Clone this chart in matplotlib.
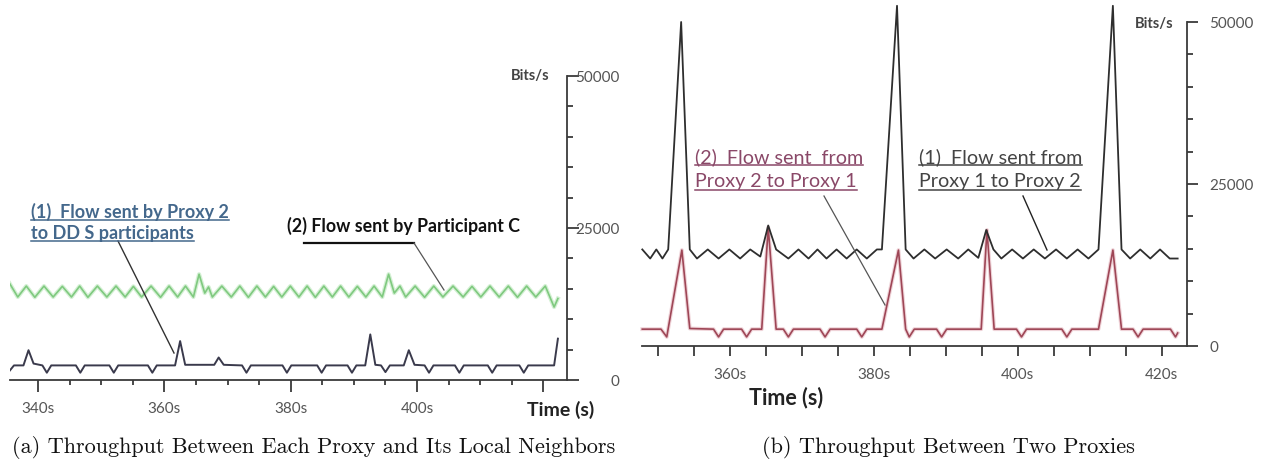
import matplotlib
matplotlib.use("Agg")
import matplotlib.pyplot as plt
from matplotlib.lines import Line2D
from matplotlib.ticker import MultipleLocator, FixedLocator, FixedFormatter

# ---------------- data ----------------
# (a) Flow sent by Participant C (green)
a_pc_t = [335.5, 336.8, 338.15, 339.5, 340.95, 342.4, 343.85, 345.3, 346.6, 347.9, 349.4, 350.9,
          352.35, 353.8, 355.1, 356.4, 357.9, 359.4, 360.75, 362.1, 363.35, 364.6, 365.5, 366.4,
          367.0, 367.6, 369.1, 370.6, 371.95, 373.3, 374.65, 376.0, 377.3, 378.6, 379.95, 381.3,
          382.6, 383.9, 385.25, 386.6, 387.9, 389.2, 390.55, 391.9, 393.2, 394.5, 395.5, 396.4,
          397.3, 398.2, 399.7, 401.2, 402.65, 404.1, 405.7, 407.3, 408.7, 410.1, 411.55, 413.0,
          414.45, 415.9, 417.35, 418.8, 420.3, 421.7, 422.3]
a_pc_v = [15900, 13650, 15450, 13600, 15450, 13650, 15400, 13650, 15450, 13600, 15450, 13650,
          15450, 13650, 15400, 13650, 15450, 13600, 15450, 13650, 15450, 13650, 17400, 14300,
          15300, 13650, 15450, 13650, 15450, 13600, 15450, 13650, 15400, 13650, 15450, 13650,
          15450, 13600, 15450, 13650, 15450, 13650, 15400, 13650, 15450, 13650, 17400, 14300,
          15450, 13650, 15450, 13600, 15450, 13650, 15450, 13650, 15400, 13650, 15450, 13650,
          15450, 13600, 15450, 13650, 15450, 12000, 13400]

# (a) Flow sent by Proxy 2 to DDS participants (dark)
a_p2_t = [335.5, 336.2, 337.7, 338.5, 339.3, 340.7, 341.4, 342.1, 346.0, 346.7, 347.4, 351.3,
          352.0, 352.7, 357.4, 358.1, 358.8, 361.7, 362.5, 363.3, 367.9, 368.6, 369.4, 372.3,
          373.0, 373.7, 378.7, 379.4, 380.1, 384.2, 384.9, 385.6, 389.0, 389.7, 390.4, 391.8,
          392.6, 393.4, 394.3, 395.0, 395.7, 397.9, 398.7, 399.6, 401.2, 401.9, 402.6, 406.0,
          406.7, 407.4, 411.2, 411.9, 412.6, 416.2, 416.9, 417.6, 421.7, 422.3]
a_p2_v = [1500, 2400, 2400, 4900, 2700, 2400, 1200, 2400, 2400, 1200, 2400, 2400,
          1200, 2400, 2400, 1200, 2400, 2400, 6400, 2500, 2500, 3700, 2500, 2400,
          1200, 2400, 2400, 1200, 2400, 2400, 1200, 2400, 2400, 1200, 2400, 2400,
          7500, 2500, 2400, 1300, 2400, 2400, 4900, 2500, 2400, 1200, 2400, 2400,
          1200, 2400, 2400, 1200, 2400, 2400, 1200, 2400, 2400, 6800]

# (b) Flow sent from Proxy 1 to Proxy 2 (black)
b_p12_t = [347.8, 348.9, 349.75, 350.6, 351.4, 353.2, 354.4, 355.4, 356.9, 358.4, 359.9, 361.4,
           362.8, 364.2, 365.3, 366.4, 368.1, 369.5, 370.9, 372.15, 373.4, 374.8, 376.2, 377.6,
           379.0, 380.4, 381.1, 383.2, 384.4, 385.5, 387.0, 388.5, 390.1, 391.7, 393.1, 394.5,
           395.6, 396.6, 397.7, 399.2, 400.7, 402.2, 403.75, 405.3, 406.8, 408.3, 409.8, 411.2,
           413.2, 414.4, 415.6, 417.0, 418.4, 419.75, 421.1, 422.2]
b_p12_v = [14900, 13500, 14900, 13500, 14900, 50000, 14900, 13500, 14900, 13500, 14900, 13500,
           14900, 13800, 18600, 14900, 13500, 14900, 13500, 14900, 13500, 14900, 13500, 14900,
           13500, 14900, 14900, 52500, 14900, 13500, 14900, 13500, 14900, 13500, 14900, 13600,
           17900, 14900, 13500, 14900, 13500, 14900, 13500, 14900, 13500, 14900, 13500, 14900,
           52500, 14900, 13500, 14900, 13500, 14900, 13500, 13500]

# (b) Flow sent from Proxy 2 to Proxy 1 (red)
b_p21_t = [347.8, 350.4, 351.2, 353.3, 354.4, 357.7, 358.4, 359.1, 361.6, 362.3, 363.0, 364.4,
           365.3, 366.4, 367.4, 368.1, 368.8, 372.5, 373.2, 373.9, 377.6, 378.3, 379.0, 381.1,
           383.4, 384.4, 384.9, 385.6, 388.7, 389.4, 390.1, 394.9, 395.7, 396.7, 399.8, 400.5,
           401.2, 406.1, 406.8, 407.5, 411.2, 413.2, 414.4, 416.0, 416.7, 417.4, 421.2, 421.9,
           422.2]
b_p21_v = [2600, 2600, 1400, 14800, 2700, 2600, 1400, 2600, 2600, 1400, 2600, 2600,
           18300, 2600, 2600, 1400, 2600, 2600, 1400, 2600, 2600, 1400, 2600, 2600,
           14800, 2600, 1400, 2600, 2600, 1400, 2600, 2600, 17900, 2600, 2600, 1400,
           2600, 2600, 1400, 2600, 2600, 14800, 2600, 2600, 1400, 2600, 2600, 1400,
           2000]

a_xticks = [340, 360, 380, 400, 420]
a_xticklabels = ["340s", "360s", "380s", "400s", ""]
b_xticks = [360, 380, 400, 420]
b_xticklabels = ["360s", "380s", "400s", "420s"]
yticks = [0, 25000, 50000]
yticklabels = ["0", "25000", "50000"]

# ---------------- figure ----------------
W, H = 1266, 465
fig = plt.figure(figsize=(W / 100, H / 100), dpi=100)
fig.patch.set_facecolor("white")
FONT = ["Lato", "DejaVu Sans"]


def fx(px):
    return px / W


def fy(py):
    return 1 - py / H


AX_COL = "#3a3a3a"
LBL_COL = "#555555"

axL = fig.add_axes([fx(10), fy(380), fx(567) - fx(10), fy(76) - fy(380)])
axR = fig.add_axes([fx(642), fy(346), fx(1187) - fx(642), fy(22) - fy(346)])
axL.set_xlim(335.57, 423.74)
axR.set_xlim(347.76, 423.5)

for ax in (axL, axR):
    ax.set_ylim(0, 50000)
    ax.set_facecolor("none")
    for s in ("top", "left"):
        ax.spines[s].set_visible(False)
    for s in ("bottom", "right"):
        ax.spines[s].set_color(AX_COL)
        ax.spines[s].set_linewidth(1.3)
    ax.yaxis.tick_right()
    ax.yaxis.set_major_locator(FixedLocator(yticks))
    ax.yaxis.set_major_formatter(FixedFormatter(yticklabels))
    ax.yaxis.set_minor_locator(MultipleLocator(5000))
    ax.xaxis.set_minor_locator(MultipleLocator(5))

# data lines
axL.plot(a_pc_t, a_pc_v, color="#d4f0d4", lw=3.0, zorder=2)
axL.plot(a_pc_t, a_pc_v, color="#7fc97f", lw=1.2, zorder=3)
axL.plot(a_p2_t, a_p2_v, color="#3a3a4c", lw=1.4, zorder=3)
axR.plot(b_p21_t, b_p21_v, color="#efd3d8", lw=2.8, zorder=2, clip_on=False)
axR.plot(b_p21_t, b_p21_v, color="#9e4656", lw=1.2, zorder=3, clip_on=False)
axR.plot(b_p12_t, b_p12_v, color="#2e2e2e", lw=1.3, zorder=4, clip_on=False)

# ticks left
axL.xaxis.set_major_locator(FixedLocator(a_xticks))
axL.xaxis.set_major_formatter(FixedFormatter(a_xticklabels))
axL.tick_params(axis="x", which="major", direction="out", length=8.5, width=1.3, color=AX_COL,
                labelsize=11, labelcolor=LBL_COL, pad=7)
axL.tick_params(axis="x", which="minor", direction="out", length=3.8, width=1.3, color=AX_COL)
axL.tick_params(axis="y", which="major", direction="out", length=8.5, width=1.3, color=AX_COL,
                labelsize=11, labelcolor=LBL_COL, pad=29.5)
axL.tick_params(axis="y", which="minor", direction="out", length=4.3, width=1.3, color=AX_COL)
for lab in axL.get_yticklabels():
    lab.set_horizontalalignment("right")

# ticks right
axR.xaxis.set_major_locator(FixedLocator(b_xticks))
axR.xaxis.set_major_formatter(FixedFormatter(b_xticklabels))
axR.tick_params(axis="x", which="both", direction="out", length=7, width=1.3, color=AX_COL,
                labelsize=11, labelcolor=LBL_COL, pad=9)
axR.tick_params(axis="y", which="major", direction="out", length=8, width=1.3, color=AX_COL,
                labelsize=11, labelcolor=LBL_COL, pad=8)
axR.tick_params(axis="y", which="minor", direction="out", length=4.3, width=1.3, color=AX_COL)

for ax in (axL, axR):
    for lab in ax.get_xticklabels() + ax.get_yticklabels():
        lab.set_fontfamily(FONT)

# axis titles
fig.text(fx(561), fy(410), "Time (s)", ha="center", va="center", fontsize=14,
         fontweight="bold", color="#222222", family=FONT)
fig.text(fx(786), fy(398), "Time (s)", ha="center", va="center", fontsize=15.5,
         fontweight="bold", color="#222222", family=FONT)
fig.text(fx(530), fy(76), "Bits/s", ha="center", va="center", fontsize=10.5,
         fontweight="bold", color="#444444", family=FONT)
fig.text(fx(1154), fy(24), "Bits/s", ha="center", va="center", fontsize=10.5,
         fontweight="bold", color="#444444", family=FONT)

# annotations
underlined = []


def atext(x, y, s, color, size, weight="normal", ul=True):
    t = fig.text(fx(x), fy(y), s, ha="left", va="center", fontsize=size, fontweight=weight,
                 color=color, family=FONT)
    if ul:
        underlined.append((t, y, color))
    return t


def leader(x0, y0, x1, y1, color, lw=1.0):
    fig.add_artist(Line2D([fx(x0), fx(x1)], [fy(y0), fy(y1)], transform=fig.transFigure,
                          color=color, lw=lw))


C1 = "#44688c"
atext(31, 212, "(1)  Flow sent by Proxy 2", C1, 13, "bold")
atext(31, 233, "to DD S participants", C1, 13, "bold")
atext(287, 226, "(2) Flow sent by Participant C", "#111111", 12.8, "bold", ul=False)
leader(118, 241, 174, 353, "#333333", 1.0)
leader(304, 243, 414, 243, "#111111", 1.6)
leader(414, 243, 444, 290, "#555555", 0.9)

C2 = "#8a4868"
C3 = "#444444"
atext(695, 157, "(2)  Flow sent  from", C2, 14.2)
atext(695, 182, "Proxy 2 to Proxy 1", C2, 14.2)
atext(919, 157, "(1)  Flow sent from", C3, 14.2)
atext(919, 182, "Proxy 1 to Proxy 2", C3, 14.2)
leader(824, 196, 885, 305, "#555555", 0.9)
leader(1023, 196, 1047, 250, "#222222", 1.0)

# captions
fig.text(fx(12), fy(447), "(a) Throughput Between Each Proxy and Its Local Neighbors",
         ha="left", va="center", fontsize=16, family=["cmr10", "DejaVu Serif"], color="#111111")
fig.text(fx(762), fy(447), "(b) Throughput Between Two Proxies",
         ha="left", va="center", fontsize=16, family=["cmr10", "DejaVu Serif"], color="#111111")

# underlines
fig.canvas.draw()
r = fig.canvas.get_renderer()
for t, y, col in underlined:
    bb = t.get_window_extent(r)
    fig.add_artist(Line2D([bb.x0 / W, bb.x1 / W], [fy(y + 8), fy(y + 8)],
                          transform=fig.transFigure, color=col, lw=1.1))

fig.savefig("out.png", dpi=100)
